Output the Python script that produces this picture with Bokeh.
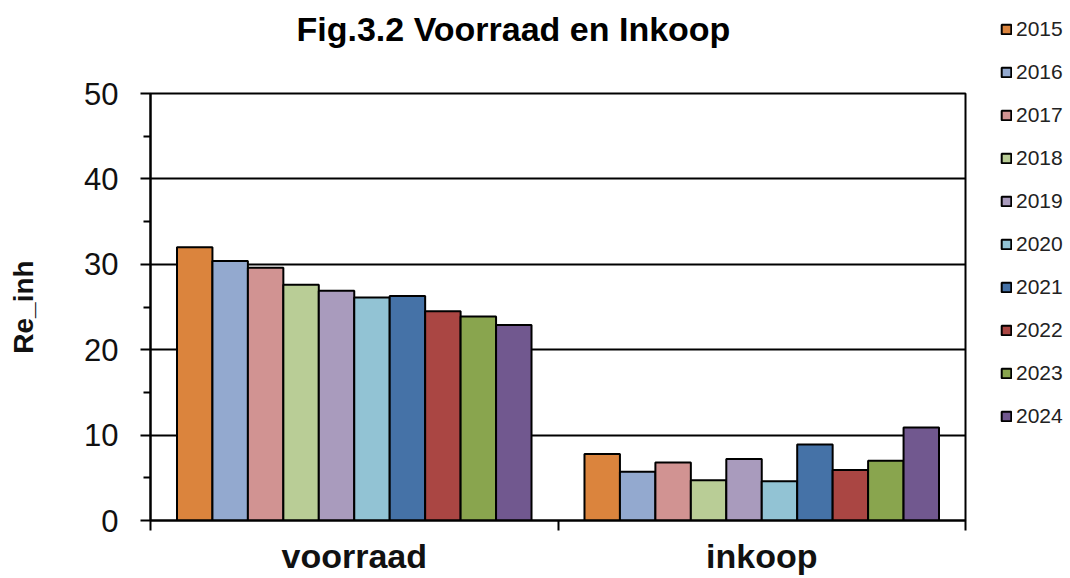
from bokeh.plotting import figure
from bokeh.layouts import row
from bokeh.models import (ColumnDataSource, Range1d, FixedTicker, Legend, LegendItem, Title)
from bokeh.transform import dodge
from bokeh.embed import file_html
from bokeh.resources import INLINE

# ---- data ----
categories = ["voorraad", "inkoop"]
years = ["2015", "2016", "2017", "2018", "2019", "2020", "2021", "2022", "2023", "2024"]
voorraad = [32.0, 30.4, 29.6, 27.6, 26.9, 26.1, 26.3, 24.5, 23.9, 22.9]
inkoop = [7.8, 5.7, 6.8, 4.7, 7.2, 4.6, 8.9, 5.9, 7.0, 10.9]
colors = ["#DB843D", "#93A9CF", "#D19392", "#B9CD96", "#A99BBD",
          "#92C3D4", "#4572A7", "#AA4643", "#89A54E", "#71588F"]
y_ticks = [0, 10, 20, 30, 40, 50]
y_minor = [5, 15, 25, 35, 45]

FONT = "Liberation Sans"

p = figure(width=990, height=578, output_backend="svg", toolbar_location=None,
           x_range=Range1d(0, 2), y_range=Range1d(0, 50),
           min_border_left=150, min_border_right=25,
           min_border_top=93, min_border_bottom=58)
p.frame_align = False

p.background_fill_color = "white"
p.border_fill_color = "white"
p.outline_line_color = "black"
p.outline_line_width = 2

# title (outermost) + thin spacer title (closer to the frame)
p.title.text = "Fig.3.2 Voorraad en Inkoop"
p.title.text_font = FONT
p.title.text_font_size = "34px"
p.title.text_font_style = "bold"
p.title.text_color = "black"
p.title.align = "left"
p.title.offset = 146
p.title.standoff = 10
spacer = Title(text=" ", text_font_size="2px", standoff=37)
p.add_layout(spacer, "above")

# bars
cat_pos = [i + 0.5 for i in range(len(categories))]
bw = 0.087
sources = []
for i, yr in enumerate(years):
    src = ColumnDataSource(dict(x=cat_pos, top=[voorraad[i], inkoop[i]]))
    sources.append(src)
    p.vbar(x=dodge("x", (i - (len(years) - 1) / 2) * bw), top="top", bottom=0,
           width=bw, source=src, fill_color=colors[i],
           line_color="black", line_width=2)

# grid
p.xgrid.visible = False
p.ygrid.ticker = FixedTicker(ticks=y_ticks)
p.ygrid.grid_line_color = "black"
p.ygrid.grid_line_width = 2

# y axis
ya = p.yaxis[0]
ya.ticker = FixedTicker(ticks=y_ticks, minor_ticks=y_minor)
ya.axis_line_width = 2
ya.axis_line_color = "black"
ya.major_tick_line_width = 2
ya.minor_tick_line_width = 2
ya.major_tick_line_color = "black"
ya.minor_tick_line_color = "black"
ya.major_tick_out = 10
ya.major_tick_in = 0
ya.minor_tick_out = 7
ya.minor_tick_in = 0
ya.major_label_standoff = 22
ya.major_label_text_font = FONT
ya.major_label_text_font_size = "31px"
ya.major_label_text_color = "#111111"
ya.axis_label = "Re_inh"
ya.axis_label_text_font = FONT
ya.axis_label_text_font_size = "28px"
ya.axis_label_text_font_style = "bold"
ya.axis_label_text_color = "#111111"
ya.axis_label_standoff = 42

# x axis
xa = p.xaxis[0]
xa.ticker = FixedTicker(ticks=cat_pos, minor_ticks=[0, 1, 2])
xa.major_label_overrides = {c: name for c, name in zip(cat_pos, categories)}
xa.axis_line_width = 2
xa.axis_line_color = "black"
xa.major_tick_out = 0
xa.major_tick_in = 0
xa.minor_tick_out = 10
xa.minor_tick_in = 0
xa.minor_tick_line_width = 2
xa.minor_tick_line_color = "black"
xa.major_label_standoff = 6
xa.major_label_text_font = FONT
xa.major_label_text_font_size = "34px"
xa.major_label_text_font_style = "bold"
xa.major_label_text_color = "#111111"

# legend in a narrow side figure (same series; its renderers are hidden,
# only their legend swatches are shown)
lf = figure(width=80, height=578, output_backend="svg", toolbar_location=None,
            x_range=Range1d(10, 11), y_range=Range1d(0, 100),
            x_axis_type=None, y_axis_type=None,
            min_border_left=0, min_border_right=0, min_border_top=0, min_border_bottom=0)
lf.frame_align = False
lf.outline_line_color = None
lf.xgrid.visible = False
lf.ygrid.visible = False
lf.background_fill_color = "white"
lf.border_fill_color = "white"

legend_renderers = []
for i, yr in enumerate(years):
    lr = lf.vbar(x="x", top="top", bottom=0, width=0.1, source=sources[i],
                 fill_color=colors[i], line_color="black", line_width=2)
    lr.visible = False
    legend_renderers.append(lr)

items = [LegendItem(label=yr, renderers=[r]) for yr, r in zip(years, legend_renderers)]
legend = Legend(items=items, location=(10, 150), orientation="vertical",
                glyph_width=12, glyph_height=12, label_height=23, spacing=19,
                label_standoff=4, padding=0, margin=0,
                border_line_alpha=0, background_fill_alpha=0,
                label_text_font=FONT, label_text_font_size="21px",
                label_text_color="#222222")
lf.add_layout(legend)

layout = row(p, lf)
open("out.html", "w").write(file_html(layout, INLINE))
